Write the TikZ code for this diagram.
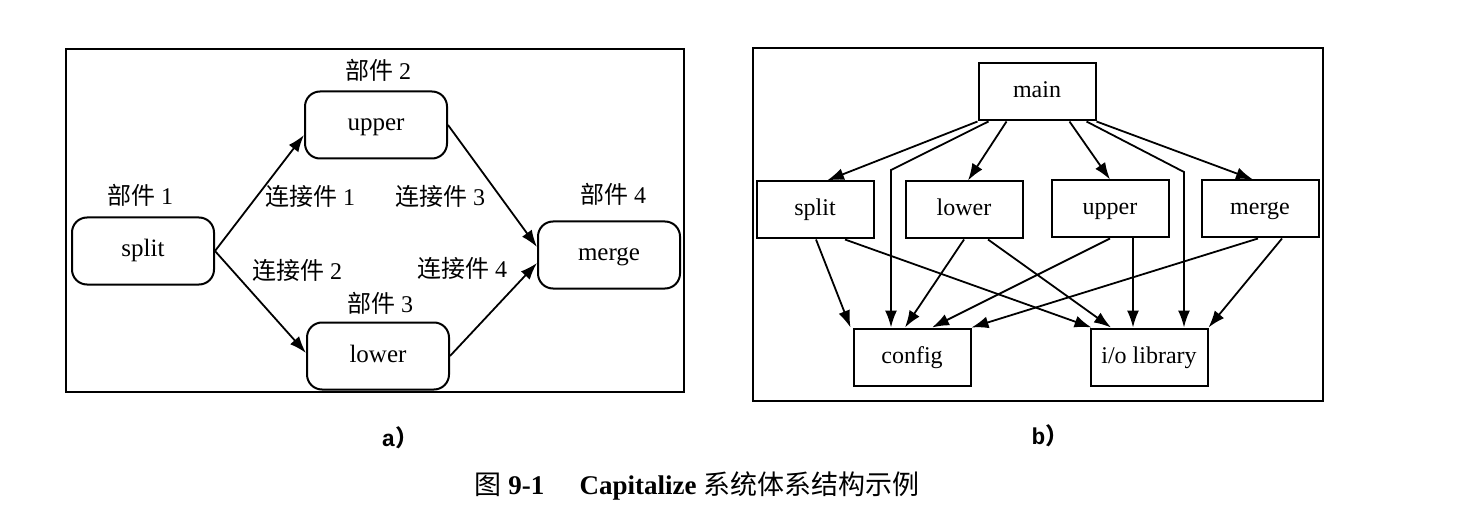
\documentclass[tikz,border=0pt]{standalone}
\usepackage{fontspec}
\setmainfont{Liberation Serif}
\setmonofont{Liberation Mono}
\newfontfamily\cjk{Noto Sans CJK SC}
\usetikzlibrary{arrows.meta}
\begin{document}
\begin{tikzpicture}[x=1pt,y=-1pt,
	comp/.style={draw,line width=2pt,rounded corners=15pt,minimum width=142pt,minimum height=67pt,text height=16pt,text depth=4pt,font=\fontsize{25}{29}\selectfont},
	modb/.style={draw,line width=2pt,minimum width=117pt,minimum height=57pt,text height=16pt,text depth=4pt,font=\fontsize{24}{28}\selectfont},
	lab/.style={font=\fontsize{24}{28}\selectfont},
	arr/.style={line width=1.8pt,-{Latex[length=17pt,width=12pt]}}]
	\useasboundingbox (0,0) rectangle (1462,505);
	% a)
	\draw[line width=2pt] (66,49) rectangle (684,392);
	\node[comp] (split) at (143,251) {split};
	\node[comp] (upper) at (376,125) {upper};
	\node[comp] (lower) at (378,356) {lower};
	\node[comp] (merge) at (609,255) {merge};
	\node[lab] (p1) at (140,195) {{\cjk 部件} 1};
	\node[lab] (p2) at (378,70) {{\cjk 部件} 2};
	\node[lab] (p3) at (380,303) {{\cjk 部件} 3};
	\node[lab] (p4) at (613,194) {{\cjk 部件} 4};
	\node[lab] (c1) at (310,196) {{\cjk 连接件} 1};
	\node[lab] (c2) at (297,270) {{\cjk 连接件} 2};
	\node[lab] (c3) at (440,196) {{\cjk 连接件} 3};
	\node[lab] (c4) at (462,268) {{\cjk 连接件} 4};
	\draw[arr] (split.east) -- ([yshift=-10pt]upper.west);
	\draw[arr] (split.east) -- ([yshift=3pt]lower.west);
	\draw[arr] (upper.east) -- ([yshift=8pt]merge.west);
	\draw[arr] (lower.east) -- ([yshift=-8pt]merge.west);
	% b)
	\draw[line width=2pt] (753,48) rectangle (1323,401);
	\node[modb] (mainb) at (1037,92) {main};
	\node[modb] (splitb) at (815,210) {split};
	\node[modb] (lowerb) at (964,210) {lower};
	\node[modb] (upperb) at (1110,209) {upper};
	\node[modb] (mergeb) at (1260,209) {merge};
	\node[modb] (config) at (912,357) {config};
	\node[modb] (iolib) at (1149,357) {i/o library};
	\coordinate (cbend) at (891,170);
	\coordinate (ibend) at (1184,172);
	\draw[arr] (mainb.south west) -- ([xshift=12pt]splitb.north);
	\draw[arr] ([xshift=11pt]mainb.south west) -- (cbend) -- ([xshift=-21pt]config.north);
	\draw[arr] ([xshift=29pt]mainb.south west) -- ([xshift=4pt]lowerb.north);
	\draw[arr] ([xshift=-27pt]mainb.south east) -- (upperb.north);
	\draw[arr] ([xshift=-10pt]mainb.south east) -- (ibend) -- ([xshift=35pt]iolib.north);
	\draw[arr] (mainb.south east) -- ([xshift=-7pt]mergeb.north);
	\draw[arr] ([xshift=1pt]splitb.south) -- ([xshift=-2pt]config.north west);
	\draw[arr] ([xshift=30pt]splitb.south) -- ([xshift=2pt]iolib.north west);
	\draw[arr] (lowerb.south) -- ([xshift=-7pt]config.north);
	\draw[arr] ([xshift=24pt]lowerb.south) -- ([xshift=-38pt]iolib.north);
	\draw[arr] (upperb.south) -- ([xshift=20pt]config.north);
	\draw[arr] ([xshift=23pt]upperb.south) -- ([xshift=-16pt]iolib.north);
	\draw[arr] ([xshift=-2pt]mergeb.south) -- (config.north east);
	\draw[arr] ([xshift=22pt]mergeb.south) -- (iolib.north east);
	% captions
	\node (capa) at (400,438) {\fontsize{23}{26}\selectfont\ttfamily\bfseries a{\cjk ）}};
	\node (capb) at (1050,436) {\fontsize{23}{26}\selectfont\ttfamily\bfseries b{\cjk ）}};
	\node (title) at (697,486) {\fontsize{27}{31}\selectfont{\cjk 图}~\textbf{9-1}\hspace{1.3em}\textbf{Capitalize}~{\cjk 系统体系结构示例}};
\end{tikzpicture}
\end{document}
